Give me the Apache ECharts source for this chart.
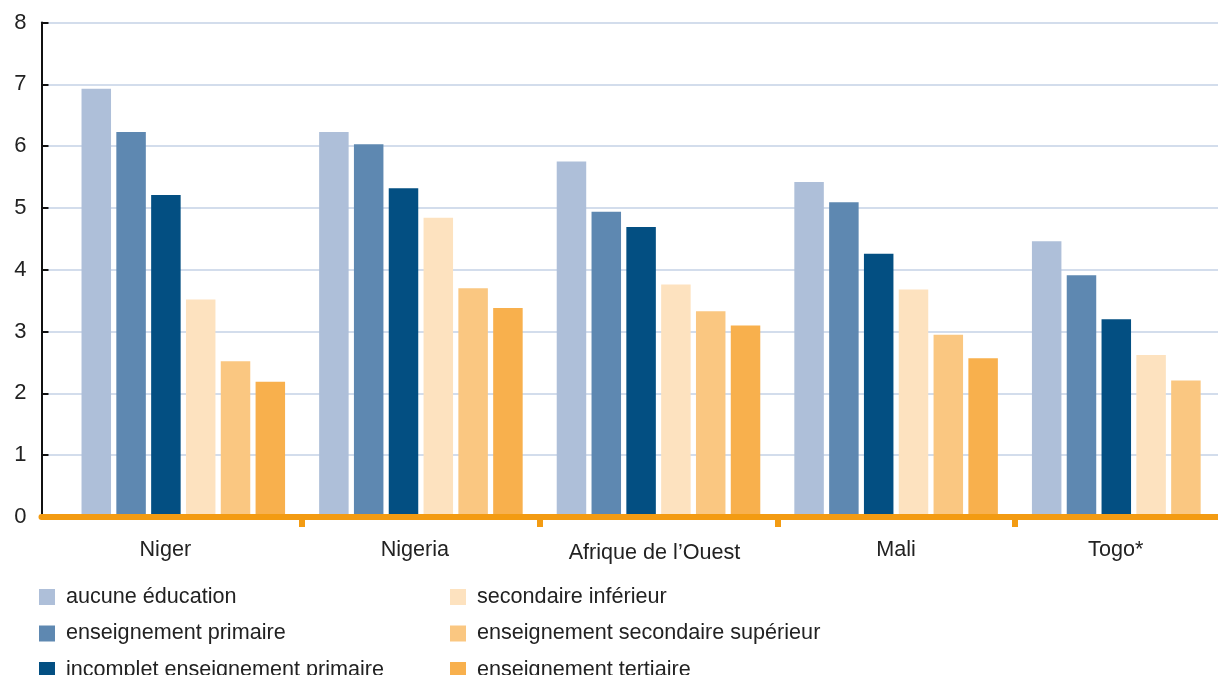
<!DOCTYPE html>
<html>
<head>
<meta charset="utf-8">
<script src="https://cdn.jsdelivr.net/npm/echarts@6/dist/echarts.min.js"></script>
<style>
html,body{margin:0;padding:0;background:#fff;}
#chart{width:1218px;height:675px;}
</style>
</head>
<body>
<div id="chart"></div>
<script>
// ---- Data ----
const categories = ['Niger', 'Nigeria', 'Afrique de l’Ouest', 'Mali', 'Togo*'];
const seriesNames = [
  'aucune éducation',
  'enseignement primaire',
  'incomplet enseignement primaire',
  'secondaire inférieur',
  'enseignement secondaire supérieur',
  'enseignement tertiaire'
];
const aucuneEducation = [6.93, 6.23, 5.75, 5.42, 4.46];
const enseignementPrimaire = [6.23, 6.03, 4.94, 5.09, 3.91];
const incompletPrimaire = [5.21, 5.32, 4.69, 4.26, 3.20];
const secondaireInferieur = [3.52, 4.84, 3.76, 3.68, 2.62];
const secondaireSuperieur = [2.52, 3.70, 3.33, 2.95, 2.21];
const tertiaire = [2.19, 3.38, 3.10, 2.57, null];
const yMin = 0, yMax = 8, yStep = 1;

// ---- Styles ----
const colors = ['#AEBFD9', '#5E88B1', '#034F82', '#FDE2BF', '#FAC781', '#F8B04D'];
const orange = '#F39B12';
const font = '"Liberation Sans", Arial, sans-serif';
const textColor = '#222222';
const fs = 21.6;
// per-label style nudges (horizontal shift, vertical drop) matching the original layout
const labelNudge = [[-18, 0], [-6, 0], [-4, 3], [0, 0], [-18, 0]];

const values = [aucuneEducation, enseignementPrimaire, incompletPrimaire,
                secondaireInferieur, secondaireSuperieur, tertiaire];

const chart = echarts.init(document.getElementById('chart'), null, {renderer: 'canvas'});

const series = seriesNames.map((name, i) => ({
  name: name,
  type: 'bar',
  xAxisIndex: 1,
  yAxisIndex: 1,
  data: values[i],
  barWidth: 29.5,
  barGap: '18%',
  itemStyle: {color: colors[i]},
  emphasis: {disabled: true},
  animation: false
}));

const labelRich = {};
labelNudge.forEach((n, i) => {
  const dx = n[0], dy = n[1];
  labelRich['c' + i] = {
    fontSize: fs, color: textColor, fontFamily: font,
    padding: [dy, dx < 0 ? -2 * dx : 0, 0, dx > 0 ? 2 * dx : 0]
  };
});

const legendText = {
  fontSize: fs, color: textColor, fontFamily: font, lineHeight: 20,
  rich: {p: {fontSize: fs, color: textColor, fontFamily: font, padding: [0, 0, 0, 6]}}
};

function makeLegend(names, left) {
  return {
    data: names,
    orient: 'vertical', left: left, top: 586, height: 140, padding: 0,
    itemWidth: 16, itemHeight: 16, itemGap: 14.5,
    icon: 'rect',
    formatter: '{p|{name}}',
    textStyle: legendText,
    selectedMode: false
  };
}

chart.setOption({
  animation: false,
  backgroundColor: '#ffffff',
  color: colors,
  grid: [
    {left: 41.5, right: 0, top: 22.5, bottom: 158, outerBoundsMode: 'none', containLabel: false},
    {left: 64.5, width: 1188, top: 22.5, bottom: 158, outerBoundsMode: 'none', containLabel: false}
  ],
  xAxis: [
    {
      gridIndex: 0, type: 'value', min: 0, max: 1, z: 10,
      axisLine: {show: true, onZero: false, lineStyle: {color: orange, width: 6}},
      axisTick: {show: false}, axisLabel: {show: false}, splitLine: {show: false}
    },
    {
      gridIndex: 1, type: 'category', data: categories,
      axisLine: {show: false},
      axisTick: {
        show: true, length: 10,
        interval: function (index) { return index > 0; },
        lineStyle: {color: orange, width: 6}
      },
      axisLabel: {
        interval: 0, margin: 22, fontSize: fs, color: textColor, fontFamily: font,
        formatter: function (v, idx) { return '{c' + idx + '|' + v + '}'; },
        rich: labelRich
      },
      splitLine: {show: false}
    }
  ],
  yAxis: [
    {
      gridIndex: 0, type: 'value', min: yMin, max: yMax, interval: yStep,
      axisLine: {show: true, lineStyle: {color: '#111111', width: 2}},
      axisTick: {show: true, inside: true, length: 7, lineStyle: {color: '#111111', width: 2}},
      axisLabel: {margin: 15, fontSize: 22, color: textColor, fontFamily: font},
      splitLine: {show: true, lineStyle: {color: '#D3DDEC', width: 2}}
    },
    {
      gridIndex: 1, type: 'value', min: yMin, max: yMax, interval: yStep, show: false
    }
  ],
  legend: [
    makeLegend(seriesNames.slice(0, 3), 39),
    makeLegend(seriesNames.slice(3, 6), 450)
  ],
  series: series
});
</script>
</body>
</html>
